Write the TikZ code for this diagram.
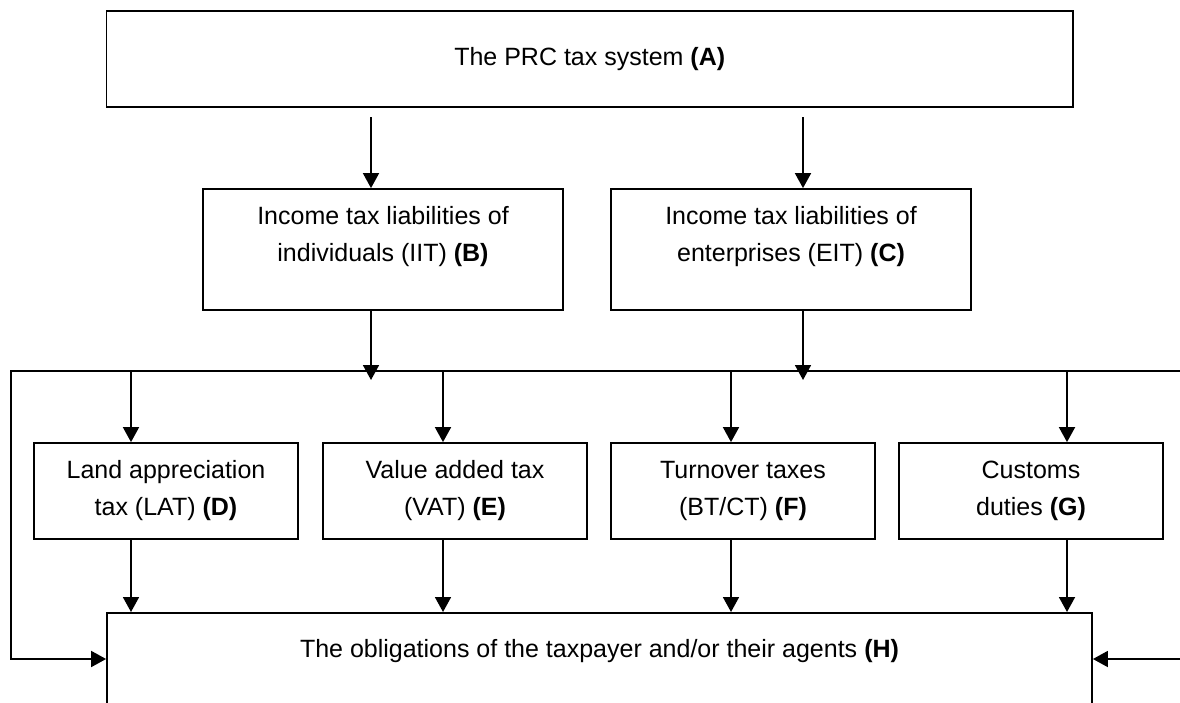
\documentclass[tikz,border=0pt]{standalone}
\usepackage{fontspec}
\setmainfont{Liberation Sans}
\usetikzlibrary{arrows.meta,calc}
\begin{document}
\begin{tikzpicture}[x=1pt,y=-1pt,
  box/.style={draw, line width=1.8pt, inner sep=0pt, align=center},
  txt/.style={inner sep=0pt, align=center, font=\fontsize{25}{37}\selectfont},
  arr/.style={line width=1.8pt, line join=miter, -{Triangle[width=16pt,length=15pt]}}]
\path[use as bounding box, clip] (0,0) rectangle (1180,702);
% boxes
\node[box, txt, minimum width=966.5pt, minimum height=96pt] (A) at (589.75,59) {The PRC tax system \textbf{(A)}};
\node[box, minimum width=360pt, minimum height=121pt] (B) at (383,249.5) {};
\node[txt] (Btxt) at ($(B.north)+(0,48)$) {Income tax liabilities of\\individuals (IIT) \textbf{(B)}};
\node[box, minimum width=360pt, minimum height=121pt] (C) at (791,249.5) {};
\node[txt] (Ctxt) at ($(C.north)+(0,48)$) {Income tax liabilities of\\enterprises (EIT) \textbf{(C)}};
\node[box, txt, minimum width=264pt, minimum height=96pt] (D) at (166,491) {Land appreciation\\tax (LAT) \textbf{(D)}};
\node[box, txt, minimum width=264pt, minimum height=96pt] (E) at (455,491) {Value added tax\\(VAT) \textbf{(E)}};
\node[box, txt, minimum width=264pt, minimum height=96pt] (F) at (743,491) {Turnover taxes\\(BT/CT) \textbf{(F)}};
\node[box, txt, minimum width=264pt, minimum height=96pt] (G) at (1031,491) {Customs\\duties \textbf{(G)}};
\node[box, minimum width=985pt, minimum height=200pt, anchor=north] (H) at (599.5,612) {};
\node[txt] (Htxt) at ($(H.north)+(0,39)$) {The obligations of the taxpayer and/or their agents \textbf{(H)}};
% coordinates
\coordinate (bus) at (0,371);
\coordinate (busL) at (11,371);
\coordinate (busR) at (1190,371);
\coordinate (loopL) at (11,659);
\coordinate (loopR) at (1190,659);
\coordinate (Bend) at (371,380);
\coordinate (Cend) at (803,380);
% A to B, C
\draw[arr] (371,117) -- (371,0 |- B.north);
\draw[arr] (803,117) -- (803,0 |- C.north);
% B, C to bus
\draw[arr] (Bend |- B.south) -- (Bend);
\draw[arr] (Cend |- C.south) -- (Cend);
% bus and loops
\draw[arr] (busR) -- (busL) -- (loopL) -- (H.west |- loopL);
\draw[arr] (loopR) -- (H.east |- loopR);
% bus to D..G
\draw[arr] (131,0 |- bus) -- (131,0 |- D.north);
\draw[arr] (443,0 |- bus) -- (443,0 |- E.north);
\draw[arr] (731,0 |- bus) -- (731,0 |- F.north);
\draw[arr] (1067,0 |- bus) -- (1067,0 |- G.north);
% D..G to H
\draw[arr] (131,0 |- D.south) -- (131,0 |- H.north);
\draw[arr] (443,0 |- E.south) -- (443,0 |- H.north);
\draw[arr] (731,0 |- F.south) -- (731,0 |- H.north);
\draw[arr] (1067,0 |- G.south) -- (1067,0 |- H.north);
\end{tikzpicture}
\end{document}
